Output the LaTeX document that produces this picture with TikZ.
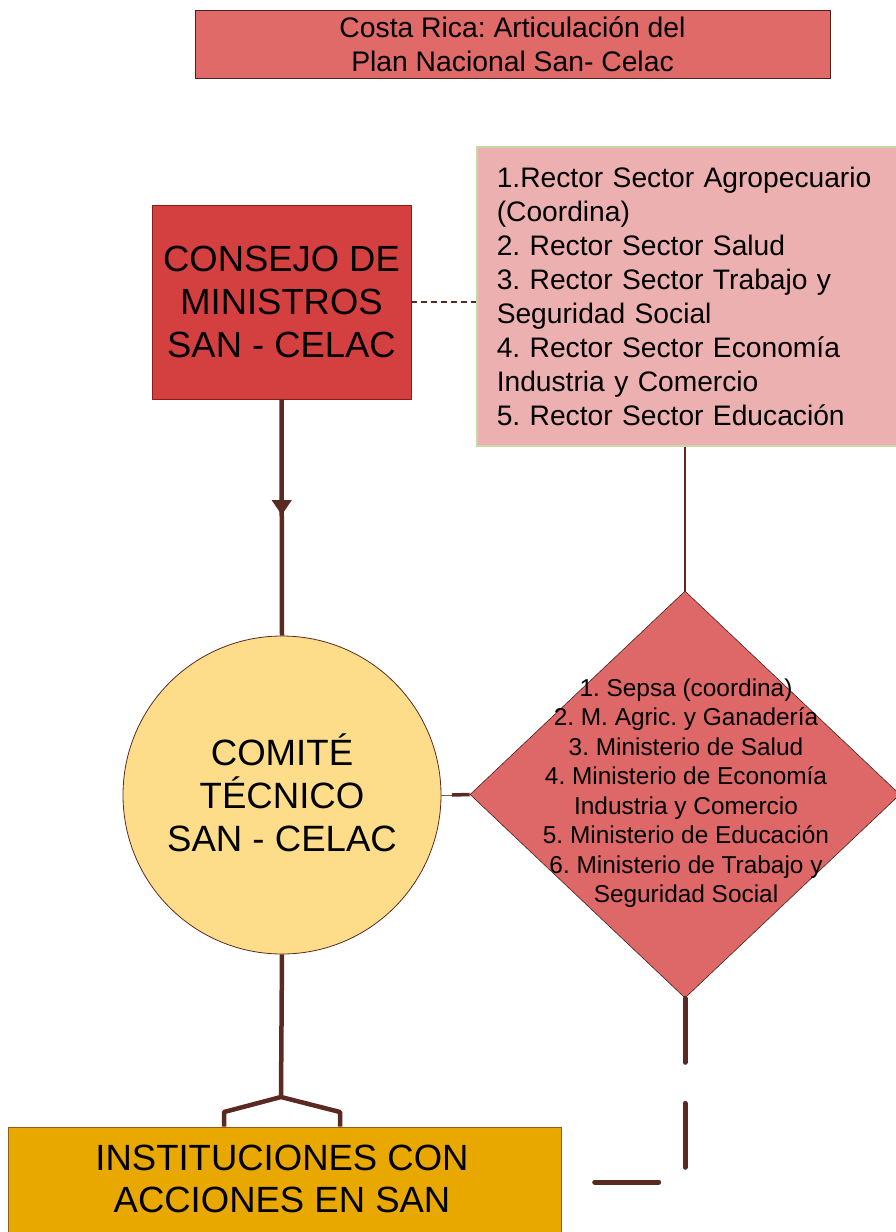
\documentclass[tikz,border=0pt]{standalone}
\usepackage{fontspec}
\setmainfont{Liberation Sans}
\usetikzlibrary{shapes.geometric,arrows.meta,decorations.markings}
\definecolor{lnbrown}{HTML}{5A2A22}
\definecolor{titlefill}{HTML}{E06A68}
\definecolor{consfill}{HTML}{D43F3F}
\definecolor{listfill}{HTML}{EDB0B0}
\definecolor{listborder}{HTML}{C8D9A8}
\definecolor{circfill}{HTML}{FDDC8A}
\definecolor{diafill}{HTML}{DE6868}
\definecolor{instfill}{HTML}{E8A800}
\frenchspacing
\begin{document}
\begin{tikzpicture}[x=1pt,y=-1pt,
  titlebox/.style={draw=lnbrown!80!black, line width=0.8pt, fill=titlefill, inner sep=0pt,
    minimum width=635pt, minimum height=68pt, align=center,
    font=\fontsize{28.3}{34}\selectfont},
  consbox/.style={draw=lnbrown!70!red, line width=0.8pt, fill=consfill, inner sep=0pt,
    minimum width=259pt, minimum height=194pt, align=center,
    font=\fontsize{36.4}{43}\selectfont},
  listbox/.style={draw=listborder, line width=1.5pt, fill=listfill, inner xsep=19pt, inner ysep=0pt,
    minimum height=299pt, minimum width=440pt, text width=400pt, align=left,
    font=\fontsize{28.2}{34}\selectfont},
  circbox/.style={circle, draw=lnbrown, line width=0.8pt, fill=circfill, inner sep=0pt,
    minimum size=318pt},
  diabox/.style={diamond, draw=lnbrown!80!black, line width=0.6pt, fill=diafill, inner sep=0pt,
    minimum width=430pt, minimum height=407pt},
  textonly/.style={inner sep=0pt, align=center},
  instbox/.style={draw=lnbrown!60!instfill, line width=0.8pt, fill=instfill, inner sep=0pt,
    minimum width=553pt, minimum height=110pt},
  thickln/.style={draw=lnbrown, line width=4.5pt},
  thinln/.style={draw=lnbrown, line width=1.3pt},
]
\useasboundingbox (0,0) rectangle (895,1232);

% nodes
\node[titlebox] (title) at (512.5,44) {Costa Rica: Articulación del\\Plan Nacional San- Celac};
\node[consbox] (cons) at (281.5,302) {CONSEJO DE\\MINISTROS\\SAN - CELAC};
\node[listbox, anchor=west] (list) at (476,296.5) {1.Rector Sector Agropecuario\\(Coordina)\\2. Rector Sector Salud\\3. Rector Sector Trabajo y\\Seguridad Social\\4. Rector Sector Economía\\Industria y Comercio\\5. Rector Sector Educación};
\node[circbox] (circ) at (282,795) {};
\node[textonly, font=\fontsize{36.6}{43}\selectfont] (circtext) at (282,793) {COMITÉ\\TÉCNICO\\SAN - CELAC};
\node[diabox] (dia) at (685,794.5) {};
\node[textonly, font=\fontsize{24.4}{29.5}\selectfont] (diatext) at (686,793) {1. Sepsa (coordina)\\2. M. Agric. y Ganadería\\3. Ministerio de Salud\\4. Ministerio de Economía\\Industria y Comercio\\5. Ministerio de Educación\\6. Ministerio de Trabajo y\\Seguridad Social};
\node[instbox] (inst) at (284.5,1182) {};
\node[textonly, font=\fontsize{36.5}{42}\selectfont] (insttext) at (282,1179) {INSTITUCIONES CON\\ACCIONES EN SAN};

% connectors
\draw[draw=lnbrown, line width=1.4pt, dash pattern=on 6pt off 4pt] (cons.east) -- (cons.east -| list.west);
\draw[thickln, postaction={decorate}, decoration={markings,
  mark=at position 0.49 with {\arrow[lnbrown]{Triangle[length=15pt,width=19pt]}}}]
  (cons.south) -- (circ.north);
\draw[thinln] (list.south -| dia.north) -- (dia.north);
\coordinate (stub) at (452,795);
\draw[draw=lnbrown!80, line width=0.8pt] (circ.east) -- (stub);
\draw[draw=lnbrown, line width=3.5pt] (stub) -- (dia.west);
\coordinate (fork) at (281,1097);
\coordinate (forkl) at (224,1112);
\coordinate (forkr) at (340,1112);
\draw[thickln] (circ.south) -- (fork);
\draw[thickln, line join=round] (forkl |- inst.north) -- (forkl) -- (fork) -- (forkr) -- (forkr |- inst.north);
\draw[draw=lnbrown, line width=5pt, line cap=round, dash pattern=on 64pt off 41pt]
  (dia.south) |- (inst.east);
\end{tikzpicture}
\end{document}
